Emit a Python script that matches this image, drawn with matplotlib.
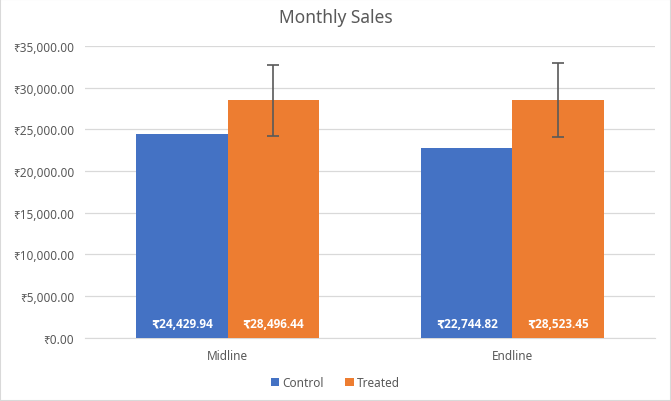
import matplotlib.pyplot as plt
import numpy as np

plt.rcParams['font.family'] = ['Noto Sans', 'DejaVu Sans']

periods = ['Midline', 'Endline']
control = [24429.94, 22744.82]
treated = [28496.44, 28523.45]
treated_err = [4230, 4400]

blue = '#4472C4'
orange = '#ED7D31'

fig = plt.figure(figsize=(6.71, 4.02), dpi=100)
ax = fig.add_axes([0.127, 0.157, 0.849, 0.726])

x = np.arange(len(periods))
w = 0.32
b1 = ax.bar(x - w / 2, control, w, color=blue, label='Control', zorder=3)
b2 = ax.bar(x + w / 2, treated, w, color=orange, label='Treated', zorder=3,
            yerr=treated_err, error_kw=dict(ecolor='#595959', elinewidth=1.2, capsize=4, capthick=1.2))

for bars, vals in [(b1, control), (b2, treated)]:
    for b, v in zip(bars, vals):
        ax.text(b.get_x() + b.get_width() / 2, 1700, '₹{:,.2f}'.format(v),
                ha='center', va='center', color='white', fontsize=8.5, fontweight='bold', zorder=4,
                family=['Open Sans', 'DejaVu Sans'])

ax.set_xlim(-0.5, 1.5)
ax.set_ylim(0, 35000)
ax.set_yticks(np.arange(0, 35001, 5000))
ax.set_yticklabels(['₹{:,.2f}'.format(v) for v in np.arange(0, 35001, 5000)])
ax.set_xticks(x)
ax.set_xticklabels(periods)
ax.tick_params(axis='both', length=0, labelsize=8.5, colors='#595959', pad=8)
ax.grid(axis='y', color='#D9D9D9', linewidth=0.9, zorder=0)
for s in ['top', 'right', 'left']:
    ax.spines[s].set_visible(False)
ax.spines['bottom'].set_color('#D9D9D9')

fig.text(0.5, 0.955, 'Monthly Sales', fontsize=12.5, color='#595959', ha='center', va='center')

fig.legend(handles=[b1, b2], labels=['Control', 'Treated'], loc='center', bbox_to_anchor=(0.5, 0.045),
           ncol=2, frameon=False, fontsize=8.5, labelcolor='#595959', handlelength=0.7, handleheight=0.7,
           handletextpad=0.3, columnspacing=1.8)

fig.patches.append(plt.Rectangle((0, 0), 1, 1, transform=fig.transFigure, fill=False,
                                 edgecolor='#D9D9D9', linewidth=1.5))

fig.savefig('out.png', dpi=100)
